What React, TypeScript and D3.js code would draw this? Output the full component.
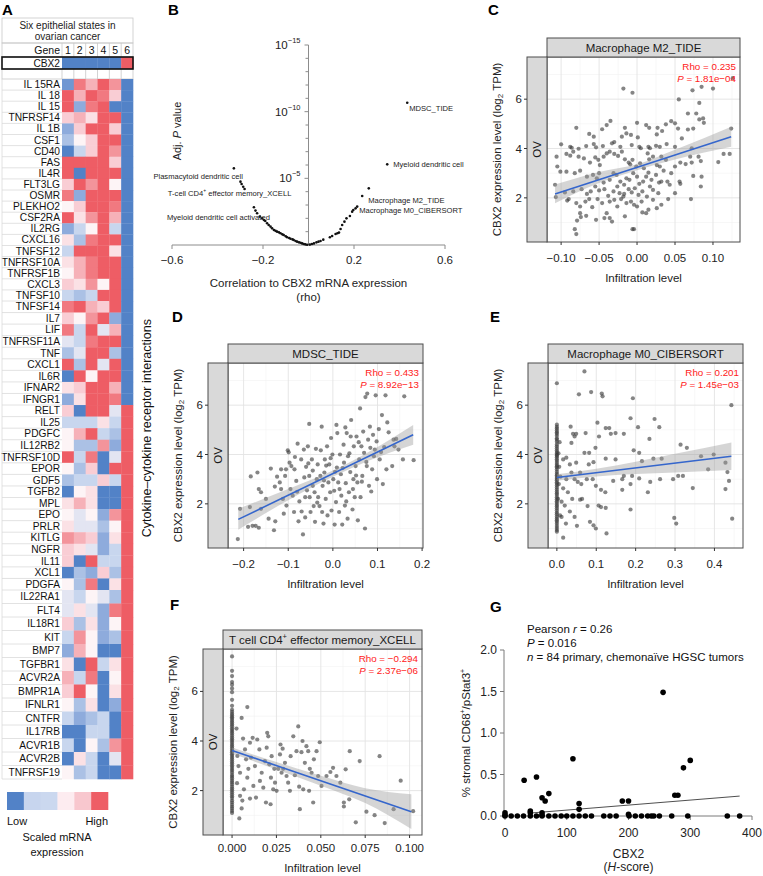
import React from "react";
import * as d3 from "d3";

const FONT = "'Liberation Sans', Arial, Helvetica, sans-serif";

// ================= Panel A data =================
const stateLabels = ["1", "2", "3", "4", "5", "6"];
const cbx2Values = [-3, -3, -3, -3, -3, 3];
const geneNames = [
  "IL 15RA", "IL 18", "IL 15", "TNFRSF14", "IL 1B", "CSF1", "CD40", "FAS", "IL4R", "FLT3LG",
  "OSMR", "PLEKHO2", "CSF2RA", "IL2RG", "CXCL16", "TNFSF12", "TNFRSF10A", "TNFRSF1B", "CXCL3", "TNFSF10",
  "TNFSF14", "IL7", "LIF", "TNFRSF11A", "TNF", "CXCL1", "IL6R", "IFNAR2", "IFNGR1", "RELT",
  "IL25", "PDGFC", "IL12RB2", "TNFRSF10D", "EPOR", "GDF5", "TGFB2", "MPL", "EPO", "PRLR",
  "KITLG", "NGFR", "IL11", "XCL1", "PDGFA", "IL22RA1", "FLT4", "IL18R1", "KIT", "BMP7",
  "TGFBR1", "ACVR2A", "BMPR1A", "IFNLR1", "CNTFR", "IL17RB", "ACVR1B", "ACVR2B", "TNFRSF19",
];
const geneValues: number[][] = [
  [-2.5, 2.5, 1.5, 3, 2, -3], [3, 1.5, 3, 2.5, 1, -3], [3, -2, 2.5, 3, -3, -3], [1, 1.5, 0.5, 3, 3, -3],
  [-2, 1, 3, 3, 1, -3], [-1.5, 0, 1, 3, 3, -3], [-3, -1, 1, 3, 2, -3], [3, 3, 3, 3, 1, -3],
  [3, -3, 3, 3, 3, -3], [1, 3, 2, 3, 0, -3], [2.5, -2, 3, 3, 3, -3], [0, 1, 3, 3, 2.5, -3],
  [3, 0.5, 2, 3, 1.5, -3], [-2, -1, 0, 3, -1, -3], [0.5, -1.5, 2.5, 3, 3, -3], [-1, 3, 3, 3, 0.5, -3],
  [0.5, 1.5, 2.5, 3, 3, -3], [0, 1.5, 2.5, 3, 3, -3], [1, 0.5, 2, 0, 3, -3], [-1, -1.5, -1, 3, 3, -3],
  [2.5, 3, 1.5, 1, 3, -3], [1, 0, 2, 3, -2, -3], [2.5, -1, 3, -0.5, 1.5, -3], [-0.5, -1, 2.5, 3, 3, -3],
  [-1.5, -0.5, 3, 3, -1.5, -3], [3, -1.5, 3, -0.5, 3, -3], [-3, 3, 0, 3, 3, -3], [0.5, 1, 3, 3, 1.5, -3],
  [-2, 0.5, 3, 3, 2.5, -3], [1, -3, 3, 3, -0.5, 3], [-1, -1, -1, 0.5, -1, 3], [0, 1.5, 3, -1, -1.5, 3],
  [0, -1.5, -1.5, 2, -2, 3], [3, -1, 2.5, -3, -0.5, 3], [0, -1.5, 1, -3, 3, 3], [-1.5, -1, -1, 1, -1, 3],
  [-3, 0, 0.5, -3, -3, 3], [0.5, 1.5, 0.5, -3, -3, 3], [0, -0.5, 0, -2, 2, 3], [0.5, -0.5, -0.5, -1.5, 0, 3],
  [2, 1.5, 1, -2, 0.5, 3], [1, 0.5, -0.5, -2, -1, 3], [1, -3, 3, -1, -1, 3], [-3, -1.5, -2, 1, -1.5, 3],
  [0, -1.5, 2.5, -3, 0.5, 3], [-0.5, -1, 0, -0.5, -1.5, 3], [-0.5, 0.5, -0.5, -2, 2.5, 3], [1, -1.5, 0.5, -2, 0, 3],
  [-1, 2, 0, -2, -1.5, 3], [-2, 1.5, 0, -3, -3, 3], [0.5, -3, 3, -1, 0.5, 3], [1.5, -1, 2.5, -3, 0, 3],
  [1, 3, 0, -3, 0.5, 3], [0, -1.5, 0.5, -3, -2, 3], [-1, -2, -1.5, -1, -3, 3], [-3, -3, -1, -1, -3, 3],
  [-1, -3, 0, -1.5, 2, 3], [-3, 0.5, -1, -3, -0.5, 3], [0, -1.5, -1, -3, -3, 3],
];
const legendColors = ["#5282c7", "#c7d5ee", "#cbd8ef", "#fdecf0", "#f8c7ce", "#ee5e66"];

// ================= Panel B data =================
const bPoints: [number, number][] = [
  [-0.328, 5.75], [-0.299, 4.75], [-0.294, 4.57], [-0.287, 4.37], [-0.281, 4.2], [-0.24, 2.83],
  [-0.233, 2.58], [-0.226, 2.38], [-0.214, 2.13], [-0.204, 2.0], [-0.196, 1.88], [-0.19, 1.8],
  [-0.182, 1.63], [-0.175, 1.5], [-0.167, 1.38], [-0.16, 1.25], [-0.152, 1.13], [-0.145, 1.06], [-0.138, 1.0],
  [-0.13, 0.95], [-0.123, 0.88], [-0.115, 0.8], [-0.109, 0.75], [-0.1, 0.66], [-0.094, 0.58],
  [-0.085, 0.52], [-0.079, 0.47], [-0.07, 0.42], [-0.065, 0.38], [-0.057, 0.3], [-0.05, 0.25],
  [-0.042, 0.2], [-0.035, 0.17], [-0.028, 0.12], [-0.021, 0.08], [-0.014, 0.05], [-0.006, 0.02],
  [0.006, 0.03], [0.015, 0.08], [0.024, 0.12], [0.035, 0.2], [0.044, 0.25], [0.053, 0.3], [0.065, 0.4],
  [0.094, 0.58], [0.104, 0.68], [0.119, 0.83], [0.127, 0.88], [0.134, 0.93], [0.141, 1.2], [0.148, 1.5],
  [0.158, 1.75], [0.167, 2.0], [0.182, 2.18], [0.192, 2.5], [0.197, 2.63], [0.207, 2.75],
  [0.214, 2.88], [0.236, 3.68], [0.265, 4.25], [0.346, 6.05], [0.434, 10.67],
];
const bLabelTexts = [
  "MDSC_TIDE", "Myeloid dendritic cell", "Macrophage M2_TIDE", "Macrophage M0_CIBERSORT",
  "Plasmacytoid dendritic cell", "T-cell CD4", "Myeloid dendritic cell activated",
];
const bLabelPoints: [number, number][] = [
  [0.434, 10.67], [0.346, 6.05], [0.236, 3.68], [0.214, 2.88], [-0.328, 5.75], [-0.294, 4.57], [-0.24, 2.83],
];
const bLabelLayout = [
  { dx: 2, dy: 6, anchor: "start" }, { dx: 6, dy: 0, anchor: "start" }, { dx: 6, dy: 5, anchor: "start" },
  { dx: 2, dy: 4, anchor: "start" }, { dx: 9, dy: 8, anchor: "end" }, { dx: -12, dy: 9, anchor: "middle" },
  { dx: 16, dy: 10, anchor: "end" },
];
const bXTicks = [-0.6, -0.2, 0.2, 0.6];
const bYMajor = [5, 10, 15];

// ================= Scatter data (C–F) =================
const exprDomain = [0.21, 7.71];
const exprTicks = [2, 4, 6];
const exprMinor = [1, 3, 5, 7];

const cPoints: [number, number][] = [
  [-0.108, 2.53], [-0.107, 2.03], [-0.106, 3.67], [-0.105, 3.27], [-0.101, 3.06], [-0.1, 4.17], [-0.093, 3.06], [-0.092, 1.89], [-0.088, 4.07],
  [-0.018, 6.43], [-0.006, 6.26], [0.073, 6.36], [0.085, 6.5], [0.1, 6.43], [0.055, 5.99], [0.082, 5.85], [0.067, 5.42], [0.078, 5.42], [0.087, 5.22], [0.126, 6.85],
  [-0.08, 4.84], [-0.046, 4.78], [-0.035, 5.12], [-0.04, 4.95], [-0.016, 4.84], [0.0, 5.04], [0.012, 4.95], [0.016, 4.84], [0.038, 4.98], [0.045, 5.11], [0.05, 5.02], [0.027, 4.84],
  [-0.014, 4.61], [-0.063, 4.59], [-0.057, 4.48], [-0.02, 4.48], [-0.008, 4.55], [0.001, 4.45], [0.026, 4.57], [0.033, 4.71], [0.054, 4.81], [0.067, 4.77], [0.074, 4.81], [0.082, 5.18], [0.088, 5.04], [0.124, 4.81],
  [-0.086, 4.03], [-0.084, 3.87], [-0.077, 3.99], [-0.067, 4.1], [-0.057, 4.18], [-0.054, 4.05], [-0.045, 4.1], [-0.033, 4.21], [-0.03, 4.26], [-0.022, 4.07], [-0.007, 4.14], [0.003, 4.07], [0.005, 4.01], [0.015, 4.07], [0.017, 4.01], [0.025, 4.11], [0.03, 4.07], [0.039, 4.18], [0.05, 4.07], [0.059, 4.41], [0.072, 4.01], [0.081, 3.67], [0.084, 3.49], [0.107, 3.45], [0.114, 3.78], [0.122, 3.78],
  [-0.093, 3.78], [-0.088, 3.71], [-0.077, 3.67], [-0.07, 3.6], [-0.062, 3.43], [-0.055, 3.64], [-0.051, 3.54], [-0.049, 3.33], [-0.044, 3.67], [-0.04, 3.8], [-0.036, 3.87], [-0.03, 3.78], [-0.025, 3.7], [-0.02, 3.87], [-0.016, 3.56], [-0.011, 3.43], [-0.009, 3.36], [-0.006, 3.54], [-0.001, 3.27], [0.004, 3.4], [0.009, 3.2], [0.014, 3.8], [0.016, 3.56], [0.021, 3.67], [0.026, 3.33], [0.03, 3.27], [0.032, 3.67], [0.038, 3.54], [0.045, 3.0], [0.05, 3.27], [0.057, 3.43], [0.064, 3.37], [0.07, 3.67], [0.072, 3.43],
  [-0.082, 3.0], [-0.075, 3.1], [-0.066, 2.86], [-0.058, 2.93], [-0.053, 2.79], [-0.05, 3.0], [-0.044, 2.62], [-0.036, 2.73], [-0.031, 3.0], [-0.027, 2.93], [-0.022, 2.66], [-0.017, 2.53], [-0.014, 2.79], [-0.01, 2.73], [-0.005, 3.0], [0.0, 2.86], [0.003, 2.57], [0.008, 2.66], [0.012, 2.86], [0.015, 3.02], [0.019, 2.73], [0.025, 2.93], [0.029, 2.62], [0.035, 3.1], [0.04, 2.66], [0.043, 2.53], [0.056, 2.66], [0.057, 2.57], [0.074, 2.89], [0.085, 2.86], [0.084, 2.46],
  [-0.095, 2.22], [-0.084, 2.26], [-0.073, 2.35], [-0.066, 2.16], [-0.061, 2.26], [-0.055, 2.46], [-0.05, 2.3], [-0.043, 2.35], [-0.038, 2.08], [-0.031, 2.26], [-0.026, 2.46], [-0.023, 2.19], [-0.018, 2.05], [-0.011, 2.35], [-0.007, 2.22], [-0.003, 2.39], [0.002, 2.12], [0.007, 2.26], [0.013, 2.05], [0.017, 2.46], [0.021, 2.32], [0.028, 2.19], [0.032, 2.66], [0.05, 2.19], [0.071, 1.95],
  [-0.09, 1.95], [-0.08, 1.79], [-0.075, 1.65], [-0.068, 1.85], [-0.063, 1.95], [-0.059, 1.62], [-0.052, 1.95], [-0.046, 1.79], [-0.036, 1.85], [-0.03, 1.92], [-0.026, 1.65], [-0.021, 1.95], [-0.017, 2.16], [-0.014, 1.79], [-0.008, 1.85], [-0.004, 1.72], [0.0, 1.65], [0.006, 1.85], [0.015, 1.52], [0.021, 1.92], [0.026, 1.58], [0.032, 1.72], [0.041, 1.95],
  [-0.075, 1.38], [-0.074, 1.22], [-0.079, 1.08], [-0.067, 1.27], [-0.054, 1.11], [-0.043, 1.18], [-0.04, 1.38], [-0.033, 1.04], [-0.036, 1.18], [-0.016, 1.25], [-0.004, 0.73], [0.007, 1.41], [0.012, 1.38], [-0.082, 0.73], [-0.08, 0.53], [-0.006, 0.73],
];
const cLine: [number, number][] = [[-0.108, 2.16], [0.124, 4.48]];
const cBand: [number, number, number][] = [[-0.108, 1.78, 2.54], [-0.05, 2.6, 3.05], [0.0, 3.12, 3.36], [0.05, 3.55, 3.95], [0.124, 4.07, 4.88]];

const dPoints: [number, number][] = [
  [-0.213, 0.57], [-0.208, 1.8], [-0.186, 1.87], [-0.19, 1.07], [-0.184, 3.11], [-0.18, 1.11], [-0.173, 1.11], [-0.169, 3.27], [-0.166, 2.6], [-0.161, 2.47], [-0.166, 1.03], [-0.161, 1.8], [-0.144, 1.4], [-0.139, 3.43], [-0.132, 0.93], [-0.129, 1.29], [-0.119, 2.87], [-0.116, 2.6], [-0.116, 3.4], [-0.112, 2.2], [-0.107, 3.13], [-0.104, 1.93], [-0.101, 4.17], [-0.099, 4.09], [-0.097, 3.67], [-0.093, 3.53], [-0.09, 2.33], [-0.087, 1.67], [-0.086, 3.4], [-0.082, 2.93], [-0.079, 4.44], [-0.08, 2.49], [-0.077, 1.29], [-0.071, 3.8], [-0.07, 1.69], [-0.067, 0.76], [-0.065, 4.2], [-0.064, 3.07], [-0.062, 2.27], [-0.056, 4.33], [-0.055, 3.64], [-0.053, 5.24], [-0.053, 3.13], [-0.052, 2.27], [-0.05, 1.67], [-0.047, 3.8], [-0.045, 2.73], [-0.043, 1.91], [-0.041, 2.47], [-0.04, 1.27], [-0.038, 4.23], [-0.036, 3.0], [-0.034, 3.6], [-0.033, 2.27], [-0.03, 1.91], [-0.028, 3.13], [-0.027, 4.17], [-0.025, 5.13], [-0.024, 1.67], [-0.023, 2.73], [-0.021, 1.2], [-0.019, 3.27], [-0.018, 3.8], [-0.016, 2.2], [-0.013, 4.33], [-0.012, 1.53], [-0.01, 2.87], [-0.008, 3.6], [-0.006, 2.47], [-0.004, 4.67], [-0.003, 1.73], [-0.001, 4.0], [0.001, 3.0], [0.003, 2.53], [0.004, 1.16], [0.007, 2.07], [0.009, 3.47], [0.01, 4.87], [0.012, 2.87], [0.014, 1.67], [0.016, 4.0], [0.018, 3.2], [0.019, 2.33], [0.021, 1.16], [0.024, 4.4], [0.025, 3.67], [0.027, 1.93], [0.029, 2.84], [0.031, 4.87], [0.033, 1.4], [0.034, 3.93], [0.036, 2.47], [0.039, 3.29], [0.04, 4.73], [0.041, 5.4], [0.044, 1.77], [0.046, 3.0], [0.047, 4.33], [0.049, 2.27], [0.051, 3.53], [0.053, 4.73], [0.055, 2.87], [0.056, 1.33], [0.059, 3.8], [0.061, 5.87], [0.062, 2.27], [0.064, 4.33], [0.066, 3.13], [0.068, 4.93], [0.07, 4.07], [0.072, 1.0], [0.073, 6.33], [0.076, 3.53], [0.077, 6.47], [0.079, 4.6], [0.081, 2.73], [0.083, 5.13], [0.084, 4.27], [0.088, 3.4], [0.09, 4.8], [0.092, 3.93], [0.096, 6.4], [0.098, 4.53], [0.099, 3.0], [0.103, 5.03], [0.105, 3.8],
  [0.16, 6.36], [0.136, 4.6], [0.142, 4.63], [0.138, 4.33], [0.157, 3.8], [0.181, 3.77], [0.133, 3.53], [0.147, 4.2], [0.11, 5.6], [0.115, 4.3], [0.12, 3.4], [0.112, 2.8], [0.125, 4.9], [0.118, 6.4], [0.108, 4.1], [0.122, 5.3],
  [-0.15, 2.2], [-0.13, 2.7], [-0.125, 3.1], [-0.11, 1.6], [-0.095, 2.6], [-0.085, 3.9], [-0.075, 2.1], [-0.06, 3.5], [-0.058, 2.55], [-0.045, 3.35], [-0.035, 2.05], [-0.02, 2.95], [-0.015, 3.55], [-0.005, 3.85], [0.005, 3.3], [0.015, 2.6], [0.022, 3.45], [0.03, 2.1], [0.037, 4.05], [0.045, 2.6], [0.052, 3.15], [0.058, 4.5], [0.065, 2.9], [0.075, 3.7], [0.086, 2.5], [0.094, 4.2], [-0.105, 3.4], [-0.062, 1.45], [0.028, 5.1], [0.008, 5.2],
];
const dLine: [number, number][] = [[-0.212, 1.37], [0.18, 4.8]];
const dBand: [number, number, number][] = [[-0.212, 0.95, 1.8], [-0.1, 2.15, 2.6], [0.0, 3.1, 3.35], [0.08, 3.75, 4.1], [0.18, 4.4, 5.2]];

const eColumn = [6.89, 5.21, 5.12, 5.05, 4.97, 4.9, 4.84, 4.76, 4.66, 4.6, 4.52, 4.41, 4.33, 4.25, 4.17, 4.1, 4.04, 3.98, 3.95, 3.89, 3.81, 3.74, 3.66, 3.58, 3.52, 3.47, 3.39, 3.3, 3.22, 3.16, 3.09, 3.02, 2.96, 2.88, 2.81, 2.74, 2.66, 2.58, 2.5, 2.43, 2.36, 2.27, 2.19, 2.11, 2.04, 1.96, 1.9, 1.82, 1.74, 1.65, 1.58, 1.49, 1.41, 1.34, 1.27, 1.19, 1.1, 1.02, 0.94, 0.87];
const ePoints: [number, number][] = [
  [0.07, 7.37], [0.056, 6.44], [0.087, 6.53], [0.114, 6.47], [0.116, 6.36], [0.193, 6.28], [0.187, 5.47], [0.248, 5.44], [0.26, 5.11], [0.206, 5.11], [0.103, 5.29], [0.124, 5.07], [0.133, 5.07], [0.137, 4.84], [0.149, 4.87], [0.17, 4.84], [0.035, 5.13], [0.041, 4.84], [0.049, 4.84], [0.045, 4.73], [0.037, 4.47], [0.073, 4.87], [0.07, 4.07], [0.082, 4.07], [0.107, 4.73], [0.098, 4.27], [0.195, 4.17], [0.209, 4.07], [0.235, 4.63], [0.314, 4.4], [0.33, 4.27], [0.366, 3.93], [0.398, 4.0], [0.443, 6.0],
  [0.016, 3.8], [0.024, 3.87], [0.033, 3.6], [0.049, 3.67], [0.059, 3.27], [0.081, 3.6], [0.093, 3.69], [0.124, 3.83], [0.149, 3.8], [0.17, 3.13], [0.191, 3.13], [0.216, 3.73], [0.245, 3.83], [0.266, 3.83], [0.308, 3.13], [0.32, 3.13], [0.384, 3.4], [0.428, 3.67], [0.433, 3.29], [0.437, 2.93], [0.428, 2.6], [0.345, 2.64], [0.143, 2.93], [0.166, 3.0], [0.187, 2.8], [0.209, 3.03], [0.237, 2.89], [0.231, 2.47], [0.262, 3.0], [0.295, 3.0],
  [0.024, 3.0], [0.037, 3.27], [0.045, 3.0], [0.053, 2.89], [0.062, 2.8], [0.076, 3.0], [0.091, 3.0], [0.099, 2.73], [0.112, 2.57], [0.123, 2.47], [0.166, 2.57], [0.016, 2.63], [0.028, 2.47], [0.039, 2.2], [0.059, 2.17], [0.064, 2.2], [0.012, 2.09], [0.02, 1.93], [0.033, 1.69], [0.045, 1.47], [0.051, 1.11], [0.078, 1.91], [0.084, 1.27], [0.093, 1.13], [0.099, 1.0], [0.106, 1.93], [0.112, 1.87], [0.124, 1.84], [0.126, 0.8], [0.016, 0.63], [0.023, 1.2], [0.187, 1.77], [0.445, 1.4], [0.298, 1.43], [0.303, 1.2], [0.008, 1.53], [0.012, 1.47],
  [0.004, 4.05], [0.006, 3.5], [0.005, 2.8], [0.003, 2.2], [0.007, 4.5], [0.009, 3.1],
];
const eLine: [number, number][] = [[0.0, 3.07], [0.443, 3.93]];
const eBand: [number, number, number][] = [[0.0, 2.94, 3.2], [0.1, 3.11, 3.42], [0.2, 3.21, 3.71], [0.3, 3.27, 4.03], [0.443, 3.37, 4.49]];

const fColumn = [7.41, 6.83, 6.62, 6.38, 6.27, 6.12, 5.97, 5.66, 5.42, 5.26, 5.18, 5.1, 5.03, 4.96, 4.9, 4.82, 4.75, 4.67, 4.6, 4.51, 4.44, 4.37, 4.3, 4.22, 4.14, 4.07, 4.0, 3.93, 3.85, 3.78, 3.7, 3.62, 3.55, 3.47, 3.4, 3.32, 3.25, 3.17, 3.1, 3.02, 2.95, 2.87, 2.8, 2.72, 2.63, 2.56, 2.49, 2.4, 2.33, 2.25, 2.16, 2.08, 2.01, 1.93, 1.85, 1.77, 1.7, 1.6, 1.52, 1.43, 1.35, 1.27, 1.18, 1.1];
const fPoints: [number, number][] = [
  [0.0054, 4.93], [0.0086, 5.37], [0.0036, 2.99], [0.0045, 2.72], [0.0045, 1.79], [0.0054, 1.28], [0.0067, 2.05], [0.0041, 0.88], [0.0073, 3.66], [0.0079, 3.26], [0.0086, 2.52], [0.0092, 2.88], [0.0101, 3.93], [0.0101, 1.68], [0.0107, 3.33], [0.0116, 4.13], [0.012, 2.19], [0.0129, 2.99], [0.0135, 1.72], [0.0142, 4.06], [0.0154, 3.66], [0.0157, 2.39], [0.0167, 2.72], [0.0176, 2.12], [0.0185, 3.19], [0.0191, 1.52], [0.0195, 3.73], [0.0198, 4.33], [0.0204, 4.19], [0.021, 3.06], [0.0217, 1.45], [0.0219, 2.52], [0.0223, 3.39], [0.0232, 2.05], [0.0238, 2.88], [0.0242, 2.32], [0.0251, 1.99], [0.026, 2.88], [0.027, 3.46], [0.0273, 3.86], [0.0279, 2.72], [0.0285, 3.69], [0.0288, 2.88], [0.0298, 3.12], [0.0307, 2.59], [0.0316, 2.32], [0.0326, 1.99], [0.033, 3.39], [0.0345, 4.19], [0.0354, 2.62], [0.0363, 3.59], [0.0373, 4.59], [0.0378, 2.16], [0.0382, 1.25], [0.0391, 3.55], [0.0397, 4.0], [0.0401, 2.05], [0.041, 3.12], [0.0419, 3.79], [0.0429, 3.59], [0.0434, 1.99], [0.0438, 2.88], [0.0448, 2.72], [0.0457, 1.52], [0.0461, 3.26], [0.0476, 3.59], [0.0485, 2.59], [0.0494, 3.95], [0.0504, 2.19], [0.0532, 2.59], [0.0554, 2.75], [0.0569, 2.92], [0.0588, 2.59], [0.061, 2.32], [0.063, 1.52], [0.063, 1.36], [0.064, 2.86], [0.066, 1.65], [0.0663, 3.59], [0.0697, 0.72], [0.0719, 3.19], [0.0757, 1.15], [0.0803, 1.01], [0.0831, 3.39], [0.086, 0.69], [0.091, 1.25], [0.095, 2.4], [0.102, 1.17],
  [0.0025, 4.5], [0.003, 3.4], [0.0028, 2.3], [0.0062, 4.1], [0.0058, 1.6],
];
const fLine: [number, number][] = [[0.0, 3.62], [0.101, 1.15]];
const fBand: [number, number, number][] = [[0.0, 3.5, 3.74], [0.025, 2.85, 3.15], [0.05, 2.2, 2.6], [0.075, 1.5, 2.1], [0.101, 0.45, 1.85]];

// ================= Panel G data =================
const gPoints: [number, number][] = [
  [0, 0], [10, 0], [20, 0], [30, 0], [41, 0], [51, 0], [60, 0], [71, 0], [81, 0], [91, 0], [100, 0], [110, 0], [120, 0], [130, 0], [140, 0],
  [160, 0], [170, 0], [180, 0], [201, 0], [211, 0], [221, 0], [231, 0], [237, 0], [241, 0], [250, 0], [270, 0], [296, 0], [360, 0], [380, 0],
  [0, 0.04], [0, 0.01], [41, 0.06], [41, 0.04], [60, 0.04], [60, 0.01], [31, 0.43], [51, 0.47], [60, 0.22], [65, 0.18], [71, 0.27],
  [110, 0.69], [120, 0.15], [120, 0.08], [190, 0.18], [200, 0.18], [200, 0.02], [256, 1.49], [275, 0.25], [280, 0.25], [289, 0.58], [300, 0.67],
];
const gLine: [number, number][] = [[40, 0.035], [380, 0.24]];
const gXTicks = [0, 100, 200, 300, 400];
const gYTicks = [0, 0.5, 1.0, 1.5, 2.0];

// ================= Components =================
function PanelA() {
  const left = 2, labelRight = 62, right = 133;
  const xCell = d3.scaleBand<string>().domain(stateLabels).range([labelRight, right]);
  const rowY = d3.scaleLinear().domain([0, 20, 45, 59]).range([79, 301, 590, 779]);
  const color = d3.scaleLinear<string>().domain([-3, -2, -1, 0, 1, 2, 3])
    .range(["#5282c7", "#8eabdc", "#c8d6ee", "#fdf4f6", "#f9cdd4", "#f3949b", "#ee5d65"]);
  const legX = d3.scaleBand<number>().domain(d3.range(legendColors.length)).range([7, 108]);
  const cw = xCell.bandwidth();
  const grid = "#c8c8c8";
  return (
    <g fontFamily={FONT}>
      <text x={2} y={15} fontSize={15} fontWeight="bold">A</text>
      <rect x={left} y={18} width={right - left} height={25} fill="none" stroke={grid} strokeWidth={0.8} />
      <text x={(left + right) / 2} y={25} fontSize={10} textAnchor="middle" dominantBaseline="central" fill="#222">Six epithelial states in</text>
      <text x={(left + right) / 2} y={36.5} fontSize={10} textAnchor="middle" dominantBaseline="central" fill="#222">ovarian cancer</text>
      <rect x={left} y={43} width={right - left} height={14} fill="none" stroke={grid} strokeWidth={0.8} />
      <text x={labelRight - 2} y={50} fontSize={10.5} textAnchor="end" dominantBaseline="central" fill="#111">Gene</text>
      {stateLabels.map((s) => (
        <g key={"h" + s}>
          <line x1={xCell(s)!} x2={xCell(s)!} y1={43} y2={57} stroke={grid} strokeWidth={0.8} />
          <text x={xCell(s)! + cw / 2} y={50} fontSize={10.5} textAnchor="middle" dominantBaseline="central" fill="#111">{s}</text>
          <line x1={xCell(s)!} x2={xCell(s)!} y1={69} y2={79} stroke={grid} strokeWidth={0.8} />
        </g>
      ))}
      <rect x={left} y={69} width={right - left} height={10} fill="none" stroke={grid} strokeWidth={0.8} />
      {stateLabels.map((s, i) => (
        <rect key={"cb" + s} x={xCell(s)!} y={57} width={cw + 0.3} height={12} fill={color(cbx2Values[i])} />
      ))}
      <text x={labelRight - 2} y={63} fontSize={10.2} textAnchor="end" dominantBaseline="central" fill="#111">CBX2</text>
      <rect x={left} y={57} width={right - left} height={12} fill="none" stroke="#111" strokeWidth={1.6} />
      {geneNames.map((g, r) => {
        const y0 = rowY(r), y1 = rowY(r + 1);
        return (
          <g key={g}>
            <line x1={left} x2={labelRight} y1={y1} y2={y1} stroke="#dadada" strokeWidth={0.8} />
            <text x={labelRight - 2} y={(y0 + y1) / 2} fontSize={10.2} textAnchor="end" dominantBaseline="central" fill="#111">{g}</text>
            {stateLabels.map((s, c) => (
              <rect key={s} x={xCell(s)!} y={y0} width={cw + 0.3} height={y1 - y0 + 0.3} fill={color(geneValues[r][c])} />
            ))}
          </g>
        );
      })}
      <line x1={left} x2={left} y1={79} y2={rowY(59)} stroke="#dadada" strokeWidth={0.8} />
      <text transform={`translate(147,${rowY(31)}) rotate(-90)`} fontSize={12.5} textAnchor="middle" dominantBaseline="central" fill="#111">Cytokine–cytokine receptor interactions</text>
      {legendColors.map((c, i) => (
        <rect key={"lg" + i} x={legX(i)!} y={792} width={legX.bandwidth() + 0.3} height={18} fill={c} />
      ))}
      <text x={7} y={821} fontSize={11} dominantBaseline="central" fill="#111">Low</text>
      <text x={108} y={821} fontSize={11} textAnchor="end" dominantBaseline="central" fill="#111">High</text>
      <text x={57} y={837} fontSize={11} textAnchor="middle" dominantBaseline="central" fill="#111">Scaled mRNA</text>
      <text x={57} y={852} fontSize={11} textAnchor="middle" dominantBaseline="central" fill="#111">expression</text>
    </g>
  );
}

function PanelB() {
  const xs = d3.scaleLinear().domain([-0.6, 0.6]).range([172, 445]);
  const ys = d3.scaleLinear().domain([0, 15]).range([245, 45]);
  const minor = d3.range(0, 16);
  const axis = "#8c8c8c";
  return (
    <g fontFamily={FONT}>
      <text x={168} y={15} fontSize={15} fontWeight="bold">B</text>
      <line x1={xs(-0.6)} x2={xs(0.6)} y1={ys(0)} y2={ys(0)} stroke={axis} strokeWidth={1} />
      {bXTicks.map((t) => (
        <g key={t}>
          <line x1={xs(t)} x2={xs(t)} y1={ys(0)} y2={ys(0) + 4} stroke={axis} />
          <text x={xs(t)} y={ys(0) + 15} fontSize={11.5} textAnchor="middle" dominantBaseline="central" fill="#222">{d3.format(".1f")(t)}</text>
        </g>
      ))}
      <line x1={xs(0)} x2={xs(0)} y1={ys(0)} y2={ys(15)} stroke={axis} strokeWidth={1} />
      {minor.map((m) => (
        <line key={m} x1={xs(0) - (m % 5 === 0 ? 4 : 3)} x2={xs(0)} y1={ys(m)} y2={ys(m)} stroke={axis} />
      ))}
      {bYMajor.map((m) => (
        <text key={m} x={xs(0) - 8} y={ys(m)} fontSize={11.5} textAnchor="end" dominantBaseline="central" fill="#222">
          10<tspan dy={-5} fontSize={7.5}>{"−" + m}</tspan>
        </text>
      ))}
      <text transform={`translate(177,131) rotate(-90)`} fontSize={11} textAnchor="middle" dominantBaseline="central" fill="#222">
        Adj. <tspan fontStyle="italic">P</tspan> value
      </text>
      <text x={xs(0)} y={283} fontSize={11.5} textAnchor="middle" dominantBaseline="central" fill="#222">Correlation to CBX2 mRNA expression</text>
      <text x={xs(0)} y={297} fontSize={11.5} textAnchor="middle" dominantBaseline="central" fill="#222">(rho)</text>
      {bPoints.map((p, i) => (
        <circle key={i} cx={xs(p[0])} cy={ys(p[1])} r={1.3} fill="#111" />
      ))}
      {bLabelTexts.map((t, i) => {
        const [px, py] = bLabelPoints[i];
        const lay = bLabelLayout[i];
        return (
          <text key={t} x={xs(px) + lay.dx} y={ys(py) + lay.dy} fontSize={7.6} textAnchor={lay.anchor as any} dominantBaseline="central" fill="#222">
            {t}
            {t === "T-cell CD4" ? (
              <>
                <tspan dy={-3} fontSize={5}>+</tspan>
                <tspan dy={3}> effector memory_XCELL</tspan>
              </>
            ) : null}
          </text>
        );
      })}
    </g>
  );
}

type PanelProps = {
  x0: number; y0: number; w: number; h: number;
  xDomain: number[]; xTicks: number[]; xFmt: string;
  title: React.ReactNode; points: [number, number][]; column?: number[];
  line: [number, number][]; band: [number, number, number][];
  rho: string; p: string; tickGap?: number; titleGap?: number;
};

function ScatterPanel(props: PanelProps) {
  const { x0, y0, w, h, xDomain, xTicks, xFmt, title, points, column, line, band, rho, p } = props;
  const tickGap = props.tickGap ?? 16;
  const titleGap = props.titleGap ?? 36;
  const xs = d3.scaleLinear().domain(xDomain).range([x0, x0 + w]);
  const ys = d3.scaleLinear().domain(exprDomain).range([y0 + h, y0]);
  const step = xTicks[1] - xTicks[0];
  const xMinor = [xTicks[0] - step / 2, ...xTicks.map((t) => t + step / 2)].filter((v) => v > xDomain[0] && v < xDomain[1]);
  const area = d3.area<[number, number, number]>().x((d) => xs(d[0])).y0((d) => ys(d[1])).y1((d) => ys(d[2])).curve(d3.curveMonotoneX);
  const fmt = d3.format(xFmt);
  const stripH = 19, ovW = 20;
  const border = "#4d4d4d";
  const allPts: [number, number][] = [...points, ...(column || []).map((v) => [0, v] as [number, number])];
  return (
    <g fontFamily={FONT}>
      <rect x={x0} y={y0} width={w} height={h} fill="#fff" />
      {xMinor.map((v) => <line key={"xm" + v} x1={xs(v)} x2={xs(v)} y1={y0} y2={y0 + h} stroke="#f1f1f1" strokeWidth={0.6} />)}
      {exprMinor.map((v) => <line key={"ym" + v} x1={x0} x2={x0 + w} y1={ys(v)} y2={ys(v)} stroke="#f1f1f1" strokeWidth={0.6} />)}
      {xTicks.map((v) => <line key={"xg" + v} x1={xs(v)} x2={xs(v)} y1={y0} y2={y0 + h} stroke="#e3e3e3" strokeWidth={0.9} />)}
      {exprTicks.map((v) => <line key={"yg" + v} x1={x0} x2={x0 + w} y1={ys(v)} y2={ys(v)} stroke="#e3e3e3" strokeWidth={0.9} />)}
      {allPts.map((d, i) => (
        <circle key={i} cx={xs(d[0])} cy={ys(d[1])} r={2.1} fill="#3a3a3a" fillOpacity={0.62} />
      ))}
      <path d={area(band) || ""} fill="#9a9a9a" fillOpacity={0.42} />
      <line x1={xs(line[0][0])} y1={ys(line[0][1])} x2={xs(line[1][0])} y2={ys(line[1][1])} stroke="#3566cc" strokeWidth={1.6} />
      <rect x={x0} y={y0} width={w} height={h} fill="none" stroke={border} strokeWidth={1} />
      <rect x={x0} y={y0 - stripH} width={w} height={stripH} fill="#d9d9d9" stroke={border} strokeWidth={1} />
      <text x={x0 + w / 2} y={y0 - stripH / 2} fontSize={11.5} textAnchor="middle" dominantBaseline="central" fill="#1a1a1a">{title}</text>
      <rect x={x0 - ovW} y={y0} width={ovW} height={h} fill="#d9d9d9" stroke={border} strokeWidth={1} />
      <text transform={`translate(${x0 - ovW / 2},${y0 + h / 2}) rotate(-90)`} fontSize={11.5} textAnchor="middle" dominantBaseline="central" fill="#1a1a1a">OV</text>
      {exprTicks.map((v) => (
        <g key={"yt" + v}>
          <line x1={x0 - ovW - 3} x2={x0 - ovW} y1={ys(v)} y2={ys(v)} stroke="#333" />
          <text x={x0 - ovW - 5} y={ys(v)} fontSize={11.5} textAnchor="end" dominantBaseline="central" fill="#222">{v}</text>
        </g>
      ))}
      {xTicks.map((v) => (
        <g key={"xt" + v}>
          <line x1={xs(v)} x2={xs(v)} y1={y0 + h} y2={y0 + h + 3} stroke="#333" />
          <text x={xs(v)} y={y0 + h + tickGap} fontSize={11.5} textAnchor="middle" dominantBaseline="central" fill="#222">{fmt(v)}</text>
        </g>
      ))}
      <text x={x0 + w / 2} y={y0 + h + titleGap} fontSize={11.5} textAnchor="middle" dominantBaseline="central" fill="#222">Infiltration level</text>
      <text transform={`translate(${x0 - ovW - 30},${y0 + h / 2}) rotate(-90)`} fontSize={11.5} textAnchor="middle" dominantBaseline="central" fill="#222">
        CBX2 expression level (log<tspan dy={3} fontSize={8}>2</tspan><tspan dy={-3}> TPM)</tspan>
      </text>
      <text x={x0 + w - 4} y={y0 + 9} fontSize={9.8} textAnchor="end" dominantBaseline="central" fill="#ff2020">{rho}</text>
      <text x={x0 + w - 4} y={y0 + 21} fontSize={9.8} textAnchor="end" dominantBaseline="central" fill="#ff2020">
        <tspan fontStyle="italic">P</tspan>{" = " + p}
      </text>
    </g>
  );
}

function PanelG() {
  const xs = d3.scaleLinear().domain([0, 400]).range([505, 752]);
  const ys = d3.scaleLinear().domain([0, 2]).range([816, 650]);
  const axis = "#7a7a7a";
  return (
    <g fontFamily={FONT}>
      <text x={490} y={612} fontSize={15} fontWeight="bold">G</text>
      <line x1={xs(0) - 1} x2={xs(0) - 1} y1={ys(0)} y2={ys(2)} stroke={axis} />
      {gYTicks.map((t) => (
        <g key={t}>
          <line x1={xs(0) - 5} x2={xs(0) - 1} y1={ys(t)} y2={ys(t)} stroke={axis} />
          <text x={xs(0) - 8} y={ys(t)} fontSize={12} textAnchor="end" dominantBaseline="central" fill="#222">{d3.format(".1f")(t)}</text>
        </g>
      ))}
      <line x1={xs(0)} x2={xs(400)} y1={ys(0)} y2={ys(0)} stroke={axis} />
      {gXTicks.map((t) => (
        <g key={t}>
          <line x1={xs(t)} x2={xs(t)} y1={ys(0)} y2={ys(0) + 4} stroke={axis} />
          <text x={xs(t)} y={ys(0) + 17} fontSize={12} textAnchor="middle" dominantBaseline="central" fill="#222">{t}</text>
        </g>
      ))}
      <text x={(xs(0) + xs(400)) / 2} y={854} fontSize={12} textAnchor="middle" dominantBaseline="central" fill="#222">CBX2</text>
      <text x={(xs(0) + xs(400)) / 2} y={867} fontSize={12} textAnchor="middle" dominantBaseline="central" fill="#222">
        (<tspan fontStyle="italic">H</tspan>-score)
      </text>
      <text transform={`translate(466,${(ys(0) + ys(2)) / 2}) rotate(-90)`} fontSize={11.5} textAnchor="middle" dominantBaseline="central" fill="#222">
        % stromal CD68<tspan dy={-4} fontSize={7}>+</tspan><tspan dy={4}>/pStat3</tspan><tspan dy={-4} fontSize={7}>+</tspan>
      </text>
      <text x={527} y={629} fontSize={11.5} dominantBaseline="central" fill="#111">Pearson <tspan fontStyle="italic">r</tspan> = 0.26</text>
      <text x={527} y={643} fontSize={11.5} dominantBaseline="central" fill="#111"><tspan fontStyle="italic">P</tspan> = 0.016</text>
      <text x={527} y={657} fontSize={11.5} dominantBaseline="central" fill="#111"><tspan fontStyle="italic">n</tspan> = 84 primary, chemonaïve HGSC tumors</text>
      <line x1={xs(gLine[0][0])} y1={ys(gLine[0][1])} x2={xs(gLine[1][0])} y2={ys(gLine[1][1])} stroke="#222" strokeWidth={0.8} />
      {gPoints.map((d, i) => (
        <circle key={i} cx={xs(d[0])} cy={ys(d[1])} r={2.8} fill="#000" />
      ))}
    </g>
  );
}

export default function App() {
  return (
    <svg width={763} height={876} viewBox="0 0 763 876" style={{ position: "absolute", left: 0, top: 0, background: "#fff" }}>
      <rect x={0} y={0} width={763} height={876} fill="#fff" />
      <PanelA />
      <PanelB />
      <text x={488} y={15} fontSize={15} fontWeight="bold" fontFamily={FONT}>C</text>
      <ScatterPanel x0={547} y0={57} w={193} h={185} xDomain={[-0.1186, 0.1356]} xTicks={[-0.1, -0.05, 0, 0.05, 0.1]} xFmt=".2f"
        title="Macrophage M2_TIDE" points={cPoints} line={cLine} band={cBand} rho="Rho = 0.235" p="1.81e−04" />
      <text x={172} y={322} fontSize={15} fontWeight="bold" fontFamily={FONT}>D</text>
      <ScatterPanel x0={228} y0={363} w={195} h={185} xDomain={[-0.235, 0.202]} xTicks={[-0.2, -0.1, 0, 0.1, 0.2]} xFmt=".1f"
        title="MDSC_TIDE" points={dPoints} line={dLine} band={dBand} rho="Rho = 0.433" p="8.92e−13" />
      <text x={490} y={322} fontSize={15} fontWeight="bold" fontFamily={FONT}>E</text>
      <ScatterPanel x0={548} y0={363} w={195} h={185} xDomain={[-0.0225, 0.4725]} xTicks={[0, 0.1, 0.2, 0.3, 0.4]} xFmt=".1f"
        title="Macrophage M0_CIBERSORT" points={ePoints} column={eColumn} line={eLine} band={eBand} rho="Rho = 0.201" p="1.45e−03" />
      <text x={170} y={610} fontSize={15} fontWeight="bold" fontFamily={FONT}>F</text>
      <ScatterPanel x0={223} y0={649} w={199} h={186} xDomain={[-0.0051, 0.107]} xTicks={[0, 0.025, 0.05, 0.075, 0.1]} xFmt=".3f"
        tickGap={13} titleGap={33}
        title={<>T cell CD4<tspan dy={-4} fontSize={7.5}>+</tspan><tspan dy={4}> effector memory_XCELL</tspan></>}
        points={fPoints} column={fColumn} line={fLine} band={fBand} rho="Rho = −0.294" p="2.37e−06" />
      <PanelG />
    </svg>
  );
}
